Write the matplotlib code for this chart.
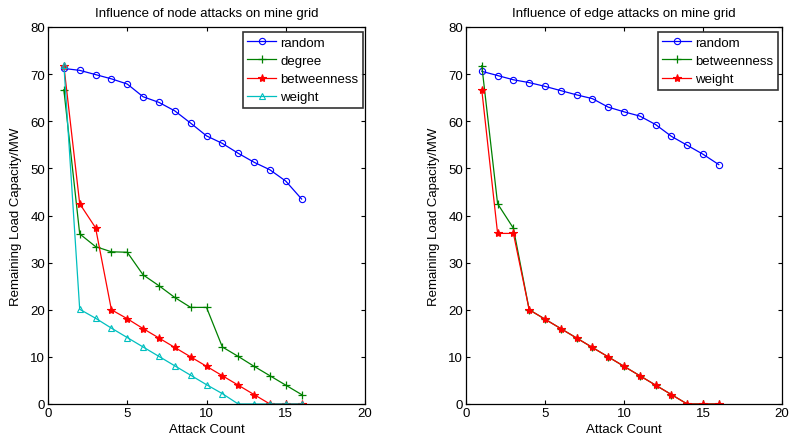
import matplotlib
matplotlib.use("Agg")
import matplotlib.pyplot as plt

plt.rcParams['font.family'] = ['Liberation Sans', 'DejaVu Sans']

attack_count = list(range(1, 17))

# Left: node attacks
node_random = [71.2, 70.8, 69.9, 69.0, 67.9, 65.2, 64.0, 62.2, 59.6, 56.9, 55.3, 53.2, 51.3, 49.7, 47.3, 43.5]
node_degree = [66.7, 36.1, 33.4, 32.3, 32.2, 27.4, 25.1, 22.6, 20.5, 20.5, 12.1, 10.1, 8.0, 6.0, 4.0, 2.0]
node_betweenness = [71.8, 42.5, 37.4, 20.0, 18.1, 16.0, 14.0, 12.0, 10.0, 8.0, 6.0, 4.0, 2.0, 0.0, 0.0, 0.0]
node_weight = [72.0, 20.1, 18.2, 16.1, 14.1, 12.1, 10.1, 8.1, 6.1, 4.1, 2.2, 0.0, 0.0, 0.0, 0.0, 0.0]

# Right: edge attacks
edge_random = [70.6, 69.7, 68.8, 68.2, 67.4, 66.5, 65.6, 64.8, 63.0, 62.0, 61.1, 59.3, 56.8, 54.9, 53.0, 50.8]
edge_betweenness = [71.8, 42.5, 37.3, 20.0, 18.0, 16.0, 14.0, 12.0, 10.0, 8.0, 6.0, 4.0, 2.0, 0.0, 0.0, 0.0]
edge_weight = [66.6, 36.2, 36.2, 20.0, 18.0, 16.0, 14.0, 12.0, 10.0, 8.0, 6.0, 4.0, 2.0, 0.0, 0.0, 0.0]

titles = ["Influence of node attacks on mine grid", "Influence of edge attacks on mine grid"]
xlabel = "Attack Count"
ylabel = "Remaining Load Capacity/MW"
xticks = [0, 5, 10, 15, 20]
yticks = [0, 10, 20, 30, 40, 50, 60, 70, 80]

BLUE = (0, 0, 1)
GREEN = (0, 0.5, 0)
RED = (1, 0, 0)
CYAN = (0, 0.75, 0.75)

fig = plt.figure(figsize=(7.89, 4.39), dpi=100)
W, H = 789, 439
ax1 = fig.add_axes([48 / W, 1 - 405 / H, 317 / W, 377 / H])
ax2 = fig.add_axes([466 / W, 1 - 405 / H, 316 / W, 377 / H])

ms = 4.5
lw = 0.9
ax1.plot(attack_count, node_random, color=BLUE, marker='o', mfc='none', ms=ms, lw=lw, mew=0.8, label='random')
ax1.plot(attack_count, node_degree, color=GREEN, marker='+', ms=ms + 1, lw=lw, mew=0.9, label='degree')
ax1.plot(attack_count, node_betweenness, color=RED, marker='*', ms=ms + 1.5, lw=lw, mew=0.8, label='betweenness')
ax1.plot(attack_count, node_weight, color=CYAN, marker='^', mfc='none', ms=ms, lw=lw, mew=0.8, label='weight')

ax2.plot(attack_count, edge_random, color=BLUE, marker='o', mfc='none', ms=ms, lw=lw, mew=0.8, label='random')
ax2.plot(attack_count, edge_betweenness, color=GREEN, marker='+', ms=ms + 1, lw=lw, mew=0.9, label='betweenness')
ax2.plot(attack_count, edge_weight, color=RED, marker='*', ms=ms + 1.5, lw=lw, mew=0.8, label='weight')

anchors = [((363 - 48) / 317, (405 - 33) / 377), ((778 - 466) / 316, (405 - 33) / 377)]
for ax, title, anc in zip([ax1, ax2], titles, anchors):
    ax.set_xlim(0, 20)
    ax.set_ylim(0, 80)
    ax.set_xticks(xticks)
    ax.set_yticks(yticks)
    ax.tick_params(direction='in', top=True, right=True, length=3, width=0.8, labelsize=9.5, pad=2)
    for s in ax.spines.values():
        s.set_linewidth(0.9)
    ax.set_title(title, fontsize=9.5, pad=8)
    ax.set_xlabel(xlabel, fontsize=9.5, labelpad=3)
    ax.set_ylabel(ylabel, fontsize=9.5, labelpad=6)
    leg = ax.legend(loc='upper right', bbox_to_anchor=anc, fontsize=9.5, frameon=True, fancybox=False,
                    edgecolor='black', borderpad=0.35, labelspacing=0.45, handlelength=2.2,
                    handletextpad=0.3, borderaxespad=0.0)
    leg.get_frame().set_linewidth(1.2)

fig.savefig("out.png", dpi=100)
